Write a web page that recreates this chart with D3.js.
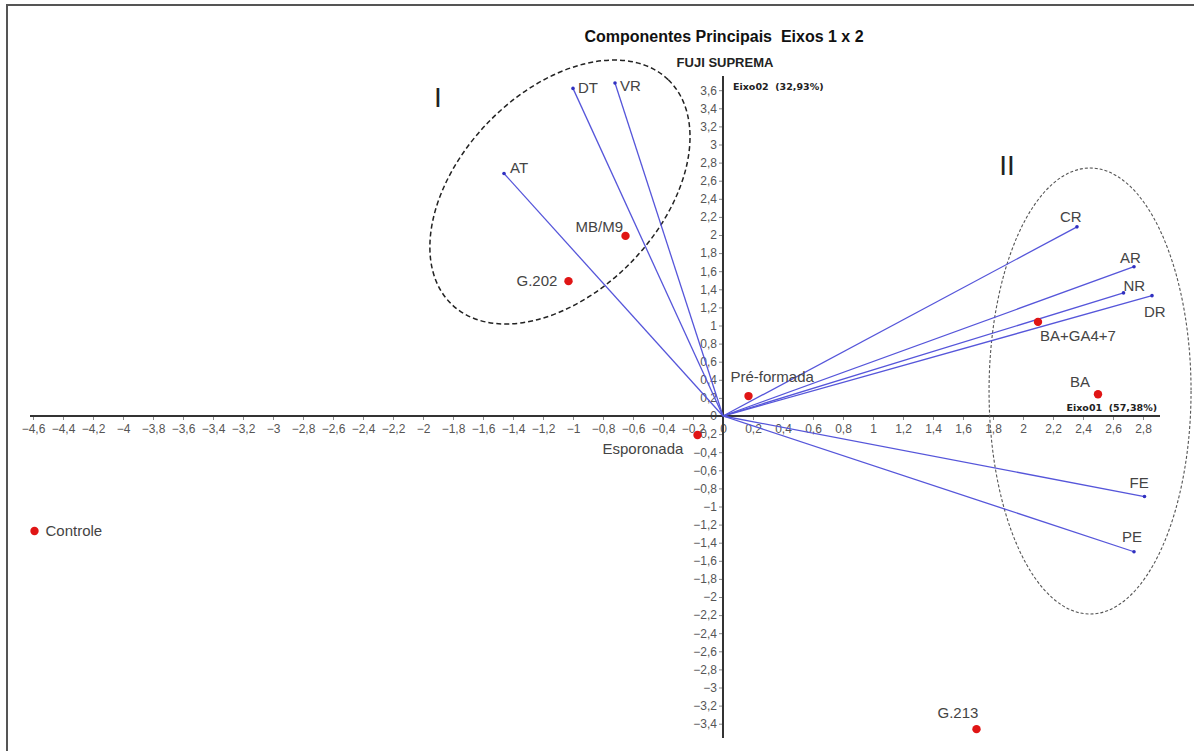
<!DOCTYPE html>
<html><head><meta charset="utf-8">
<script src="https://cdn.jsdelivr.net/npm/d3@7"></script>
<style>html,body{margin:0;padding:0;background:#fff;}svg{display:block;}text{white-space:pre;}</style>
</head><body>
<script>
// ---- data ----
const varNames = ["DT","VR","AT","CR","AR","NR","DR","FE","PE"];
const varPC1 = [-1.00,-0.72,-1.46,2.36,2.74,2.67,2.86,2.81,2.74];
const varPC2 = [3.62,3.68,2.68,2.09,1.65,1.36,1.33,-0.89,-1.50];
const treatNames = ["MB/M9","G.202","BA+GA4+7","BA","Pré-formada","Esporonada","Controle","G.213"];
const treatPC1 = [-0.65,-1.03,2.10,2.50,0.17,-0.17,-4.59,1.69];
const treatPC2 = [1.99,1.49,1.04,0.24,0.22,-0.21,-1.27,-3.46];
const xTicks = d3.range(-23,15).map(i=>+(i*0.2).toFixed(1));
const yTicks = d3.range(-17,19).map(i=>+(i*0.2).toFixed(1));
const groupNames = ["I","II"];
const groupCx = [-1.087, 2.447];
const groupCy = [2.475, 0.276];

// ---- layout ----
const W=1194,H=751;
const varLabelOff = [[5,5],[5,8],[6,0],[-17,-5],[-14,-4],[0,-2],[-8,21],[-15,-9],[-12,-10]];
const treatLabelOff = [[-50,-4],[-52,5],[2,19],[-28,-7],[-18,-14],[-95,19],[11,5],[-39,-11]];
const ellipseGeom = [{rx:156,ry:100,rot:-46,dash:"5,3",w:1.5,c:"#222"},{rx:101,ry:223,rot:0,dash:"3,2",w:1.1,c:"#555"}];
const romanPos = [[438,107],[1007,175]];
const font = "'Liberation Sans', Arial, sans-serif";

const svg = d3.select("body").append("svg").attr("width",W).attr("height",H);
const x = d3.scaleLinear().domain([-4.6,2.8]).range([33,1143]);
const y = d3.scaleLinear().domain([-3.4,3.6]).range([723.7,90.2]);
const fmt = v => (Math.abs(v)<1e-9 ? "0" : d3.format("~g")(+v.toFixed(1)).replace(".",","));

// frame
svg.append("path").attr("d","M7,751 L7,5 L1194,5").attr("fill","none").attr("stroke","#555").attr("stroke-width",2);

// title
svg.append("text").attr("x",724).attr("y",42).attr("text-anchor","middle")
  .attr("font-family",font).attr("font-weight","bold").attr("font-size",16).attr("fill","#111")
  .text("Componentes Principais  Eixos 1 x 2");
svg.append("text").attr("x",725).attr("y",67).attr("text-anchor","middle")
  .attr("font-family",font).attr("font-weight","bold").attr("font-size",13).attr("fill","#222")
  .text("FUJI SUPREMA");

// axes
const x0 = x(0), y0 = y(0);
const gx = svg.append("g").attr("transform",`translate(0,${y0})`)
  .call(d3.axisBottom(x).tickValues(xTicks).tickFormat(fmt).tickSize(4).tickPadding(4));
const gy = svg.append("g").attr("transform",`translate(${x0},0)`)
  .call(d3.axisLeft(y).tickValues(yTicks).tickFormat(fmt).tickSize(4).tickPadding(2));
[gx,gy].forEach(g=>{
  g.select(".domain").remove();
  g.selectAll(".tick line").attr("stroke","#888");
  g.selectAll(".tick text").attr("fill","#555").attr("font-family",font).attr("font-size",12);
});
svg.append("line").attr("x1",30).attr("x2",1160).attr("y1",y0).attr("y2",y0).attr("stroke","#333").attr("stroke-width",2);
svg.append("line").attr("x1",x0).attr("x2",x0).attr("y1",76).attr("y2",738).attr("stroke","#333").attr("stroke-width",2);
svg.append("text").attr("x",733).attr("y",90).attr("font-family","'DejaVu Sans', Verdana, sans-serif")
  .attr("font-weight","bold").attr("font-size",9.5).attr("fill","#222").text("Eixo02  (32,93%)");
svg.append("text").attr("x",1157).attr("y",411).attr("text-anchor","end").attr("font-family","'DejaVu Sans', Verdana, sans-serif")
  .attr("font-weight","bold").attr("font-size",9.5).attr("fill","#222").text("Eixo01  (57,38%)");

// ellipses
groupNames.forEach((g,i)=>{
  const e = ellipseGeom[i];
  svg.append("ellipse").attr("cx",0).attr("cy",0).attr("rx",e.rx).attr("ry",e.ry)
    .attr("transform",`translate(${x(groupCx[i])},${y(groupCy[i])}) rotate(${e.rot})`)
    .attr("fill","none").attr("stroke",e.c).attr("stroke-width",e.w).attr("stroke-dasharray",e.dash);
  svg.append("text").attr("x",romanPos[i][0]).attr("y",romanPos[i][1]).attr("text-anchor","middle")
    .attr("font-family",font).attr("font-size",28).attr("fill","#222").text(g);
});

// vectors
const vg = svg.append("g");
varNames.forEach((n,i)=>{
  vg.append("line").attr("x1",x0).attr("y1",y0).attr("x2",x(varPC1[i])).attr("y2",y(varPC2[i]))
    .attr("stroke","#5656da").attr("stroke-width",1.3);
  vg.append("circle").attr("cx",x(varPC1[i])).attr("cy",y(varPC2[i])).attr("r",1.8).attr("fill","#3030c0");
  vg.append("text").attr("x",x(varPC1[i])+varLabelOff[i][0]).attr("y",y(varPC2[i])+varLabelOff[i][1])
    .attr("font-family",font).attr("font-size",15).attr("fill","#444").text(n);
});

// treatments
treatNames.forEach((n,i)=>{
  svg.append("circle").attr("cx",x(treatPC1[i])).attr("cy",y(treatPC2[i])).attr("r",4.2).attr("fill","#e01515");
  svg.append("text").attr("x",x(treatPC1[i])+treatLabelOff[i][0]).attr("y",y(treatPC2[i])+treatLabelOff[i][1])
    .attr("font-family",font).attr("font-size",15).attr("fill","#444").text(n);
});
</script>
</body></html>
